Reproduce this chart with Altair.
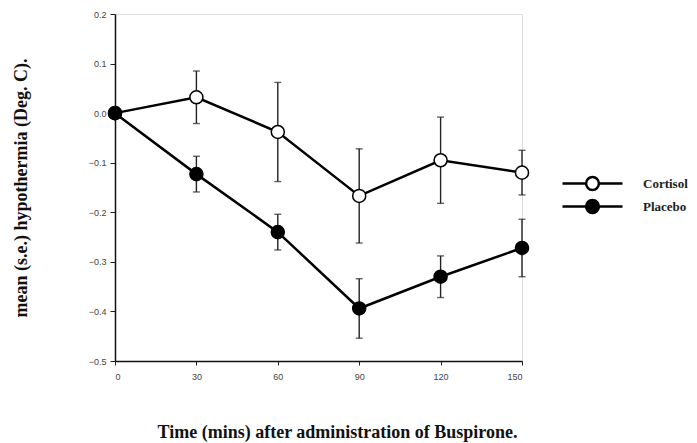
import altair as alt
import pandas as pd

times = [0, 30, 60, 90, 120, 150]
series_names = ["Cortisol", "Placebo"]
cort_mean = [0.0, 0.032, -0.038, -0.167, -0.095, -0.120]
cort_se = [0.0, 0.053, 0.100, 0.095, 0.087, 0.045]
plac_mean = [0.0, -0.123, -0.240, -0.394, -0.330, -0.272]
plac_se = [0.0, 0.036, 0.036, 0.060, 0.042, 0.058]
x_ticks = [0, 30, 60, 90, 120, 150]
y_ticks = [0.2, 0.1, 0.0, -0.1, -0.2, -0.3, -0.4, -0.5]

rows = []
for name, means, ses in [("Cortisol", cort_mean, cort_se), ("Placebo", plac_mean, plac_se)]:
    for t, m, s in zip(times, means, ses):
        rows.append({"series": name, "time": t, "mean": m, "lo": m - s, "hi": m + s, "se": s})
df = pd.DataFrame(rows)
err = df[df["se"] > 0]

serif = "Liberation Serif"
sans = "Liberation Sans"

xs = alt.Scale(domain=[0, 150], nice=False, zero=False)
ys = alt.Scale(domain=[-0.5, 0.2], nice=False, zero=False)

x_axis = alt.Axis(values=x_ticks, title="Time (mins) after administration of Buspirone.",
                  format="d", labelFont=sans, labelFontSize=9, labelColor="#444",
                  titleFont=serif, titleFontSize=18, titleFontWeight="bold", titleColor="#111",
                  titlePadding=42, titleX=222, labelPadding=7, tickSize=4, tickColor="#222",
                  domainColor="#111", domainWidth=1.5, grid=False)
y_axis = alt.Axis(values=y_ticks, title="mean (s.e.) hypothermia (Deg. C).", format=".1f",
                  labelFont=sans, labelFontSize=9, labelColor="#444",
                  titleFont=serif, titleFontSize=18, titleFontWeight="bold", titleColor="#111",
                  titlePadding=58, labelPadding=4, tickSize=5, tickColor="#222",
                  domainColor="#111", domainWidth=1.5, grid=False)

base = alt.Chart(df)

lines = base.mark_line(color="black", strokeWidth=2.5).encode(
    x=alt.X("time:Q", scale=xs, axis=x_axis),
    y=alt.Y("mean:Q", scale=ys, axis=y_axis),
    detail="series:N",
)

rules = alt.Chart(err).mark_rule(color="#222", strokeWidth=1.4).encode(
    x=alt.X("time:Q", scale=xs),
    y=alt.Y("lo:Q", scale=ys),
    y2="hi:Q",
)
cap_lo = alt.Chart(err).mark_tick(color="#222", orient="horizontal", size=7, thickness=1.4).encode(
    x=alt.X("time:Q", scale=xs),
    y=alt.Y("lo:Q", scale=ys),
)
cap_hi = alt.Chart(err).mark_tick(color="#222", orient="horizontal", size=7, thickness=1.4).encode(
    x=alt.X("time:Q", scale=xs),
    y=alt.Y("hi:Q", scale=ys),
)

# line through an open/filled circle, drawn with cubic curves
legend_path = ("M -7.5 0 L -1.6 0 M 1.6 0 L 7.5 0 "
               "M -1.6 0 C -1.6 -0.884 -0.884 -1.6 0 -1.6 "
               "C 0.884 -1.6 1.6 -0.884 1.6 0 "
               "C 1.6 0.884 0.884 1.6 0 1.6 "
               "C -0.884 1.6 -1.6 0.884 -1.6 0 Z")

points = base.mark_point(shape="circle", filled=True, stroke="black", strokeWidth=1.5,
                         size=170, opacity=1).encode(
    x=alt.X("time:Q", scale=xs),
    y=alt.Y("mean:Q", scale=ys),
    fill=alt.Fill("series:N",
                  scale=alt.Scale(domain=series_names, range=["white", "black"]),
                  legend=alt.Legend(title=None, orient="none", legendX=471, legendY=163,
                                    symbolType=legend_path, symbolSize=64,
                                    symbolStrokeColor="black", symbolStrokeWidth=2.5,
                                    symbolOpacity=1, labelFont=serif, labelFontSize=13,
                                    labelFontWeight="bold",
                                    labelColor="#222", labelOffset=44, rowPadding=0,
                                    padding=0)),
)

chart = alt.layer(lines, rules, cap_lo, cap_hi, points).properties(
    width=407, height=347,
    autosize=alt.AutoSizeParams(type="none"),
    padding={"left": 107, "top": 6, "right": 167, "bottom": 82},
).configure_view(stroke=None).configure(background="white")

chart.save("out.html", embed_options={"renderer": "svg", "actions": False})
